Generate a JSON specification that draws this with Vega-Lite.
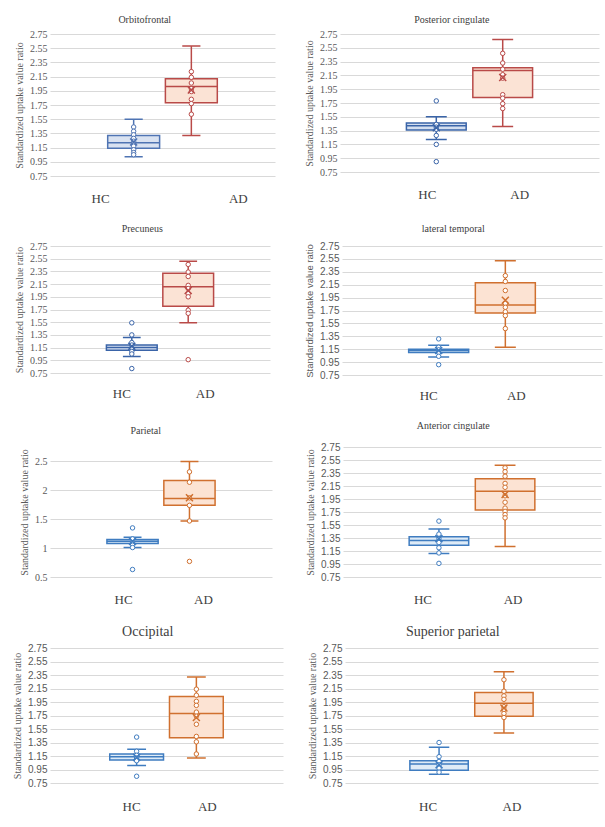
{
"$schema": "https://vega.github.io/schema/vega-lite/v6.json",
"background": "white",
"padding": {"left": 12, "top": 15, "right": 5, "bottom": 5},
"spacing": 19,
"resolve": {"scale": {"stroke": "independent", "fill": "independent"}},
"data": {"values": [
{"region":"Orbitofrontal","group":"HC","lo":1.02,"q1":1.14,"median":1.22,"q3":1.32,"hi":1.55,"mean":1.23},
{"region":"Orbitofrontal","group":"AD","lo":1.32,"q1":1.78,"median":2.01,"q3":2.12,"hi":2.58,"mean":1.96},
{"region":"Posterior cingulate","group":"HC","lo":1.22,"q1":1.36,"median":1.42,"q3":1.46,"hi":1.55,"mean":1.39},
{"region":"Posterior cingulate","group":"AD","lo":1.41,"q1":1.83,"median":2.22,"q3":2.26,"hi":2.67,"mean":2.12},
{"region":"Precuneus","group":"HC","lo":1.01,"q1":1.11,"median":1.15,"q3":1.19,"hi":1.31,"mean":1.17},
{"region":"Precuneus","group":"AD","lo":1.54,"q1":1.80,"median":2.11,"q3":2.32,"hi":2.51,"mean":2.05},
{"region":"lateral temporal","group":"HC","lo":1.03,"q1":1.10,"median":1.13,"q3":1.15,"hi":1.21,"mean":1.13},
{"region":"lateral temporal","group":"AD","lo":1.18,"q1":1.71,"median":1.835,"q3":2.18,"hi":2.52,"mean":1.91},
{"region":"Parietal","group":"HC","lo":1.01,"q1":1.08,"median":1.12,"q3":1.15,"hi":1.19,"mean":1.12},
{"region":"Parietal","group":"AD","lo":1.47,"q1":1.74,"median":1.86,"q3":2.17,"hi":2.50,"mean":1.87},
{"region":"Anterior cingulate","group":"HC","lo":1.11,"q1":1.24,"median":1.31,"q3":1.37,"hi":1.49,"mean":1.34},
{"region":"Anterior cingulate","group":"AD","lo":1.22,"q1":1.78,"median":2.07,"q3":2.26,"hi":2.47,"mean":2.02},
{"region":"Occipital","group":"HC","lo":1.01,"q1":1.09,"median":1.14,"q3":1.18,"hi":1.25,"mean":1.13},
{"region":"Occipital","group":"AD","lo":1.12,"q1":1.42,"median":1.78,"q3":2.03,"hi":2.32,"mean":1.72},
{"region":"Superior parietal","group":"HC","lo":0.88,"q1":0.94,"median":1.03,"q3":1.08,"hi":1.28,"mean":1.02},
{"region":"Superior parietal","group":"AD","lo":1.49,"q1":1.74,"median":1.93,"q3":2.09,"hi":2.40,"mean":1.86},
{"region":"Orbitofrontal","group":"HC","value":1.44},{"region":"Orbitofrontal","group":"HC","value":1.38},{"region":"Orbitofrontal","group":"HC","value":1.33},{"region":"Orbitofrontal","group":"HC","value":1.28},{"region":"Orbitofrontal","group":"HC","value":1.24},{"region":"Orbitofrontal","group":"HC","value":1.21},{"region":"Orbitofrontal","group":"HC","value":1.17},{"region":"Orbitofrontal","group":"HC","value":1.12},{"region":"Orbitofrontal","group":"HC","value":1.08},{"region":"Orbitofrontal","group":"HC","value":1.05},
{"region":"Orbitofrontal","group":"AD","value":2.22},{"region":"Orbitofrontal","group":"AD","value":2.14},{"region":"Orbitofrontal","group":"AD","value":2.06},{"region":"Orbitofrontal","group":"AD","value":1.98},{"region":"Orbitofrontal","group":"AD","value":1.94},{"region":"Orbitofrontal","group":"AD","value":1.83},{"region":"Orbitofrontal","group":"AD","value":1.77},{"region":"Orbitofrontal","group":"AD","value":1.62},
{"region":"Posterior cingulate","group":"HC","value":1.78},{"region":"Posterior cingulate","group":"HC","value":1.44},{"region":"Posterior cingulate","group":"HC","value":1.40},{"region":"Posterior cingulate","group":"HC","value":1.37},{"region":"Posterior cingulate","group":"HC","value":1.28},{"region":"Posterior cingulate","group":"HC","value":1.15},{"region":"Posterior cingulate","group":"HC","value":0.90},
{"region":"Posterior cingulate","group":"AD","value":2.47},{"region":"Posterior cingulate","group":"AD","value":2.33},{"region":"Posterior cingulate","group":"AD","value":2.24},{"region":"Posterior cingulate","group":"AD","value":2.16},{"region":"Posterior cingulate","group":"AD","value":2.11},{"region":"Posterior cingulate","group":"AD","value":1.87},{"region":"Posterior cingulate","group":"AD","value":1.82},{"region":"Posterior cingulate","group":"AD","value":1.74},{"region":"Posterior cingulate","group":"AD","value":1.67},
{"region":"Precuneus","group":"HC","value":1.54},{"region":"Precuneus","group":"HC","value":1.35},{"region":"Precuneus","group":"HC","value":1.23},{"region":"Precuneus","group":"HC","value":1.19},{"region":"Precuneus","group":"HC","value":1.14},{"region":"Precuneus","group":"HC","value":1.09},{"region":"Precuneus","group":"HC","value":1.05},{"region":"Precuneus","group":"HC","value":0.82},
{"region":"Precuneus","group":"AD","value":2.46},{"region":"Precuneus","group":"AD","value":2.34},{"region":"Precuneus","group":"AD","value":2.27},{"region":"Precuneus","group":"AD","value":2.13},{"region":"Precuneus","group":"AD","value":2.08},{"region":"Precuneus","group":"AD","value":2.00},{"region":"Precuneus","group":"AD","value":1.95},{"region":"Precuneus","group":"AD","value":1.74},{"region":"Precuneus","group":"AD","value":1.69},{"region":"Precuneus","group":"AD","value":0.96},
{"region":"lateral temporal","group":"HC","value":1.31},{"region":"lateral temporal","group":"HC","value":1.18},{"region":"lateral temporal","group":"HC","value":1.14},{"region":"lateral temporal","group":"HC","value":1.10},{"region":"lateral temporal","group":"HC","value":1.04},{"region":"lateral temporal","group":"HC","value":0.91},
{"region":"lateral temporal","group":"AD","value":2.29},{"region":"lateral temporal","group":"AD","value":2.20},{"region":"lateral temporal","group":"AD","value":2.06},{"region":"lateral temporal","group":"AD","value":1.86},{"region":"lateral temporal","group":"AD","value":1.80},{"region":"lateral temporal","group":"AD","value":1.73},{"region":"lateral temporal","group":"AD","value":1.67},{"region":"lateral temporal","group":"AD","value":1.47},
{"region":"Parietal","group":"HC","value":1.35},{"region":"Parietal","group":"HC","value":1.16},{"region":"Parietal","group":"HC","value":1.09},{"region":"Parietal","group":"HC","value":1.05},{"region":"Parietal","group":"HC","value":1.01},{"region":"Parietal","group":"HC","value":0.63},
{"region":"Parietal","group":"AD","value":2.32},{"region":"Parietal","group":"AD","value":2.14},{"region":"Parietal","group":"AD","value":1.87},{"region":"Parietal","group":"AD","value":1.74},{"region":"Parietal","group":"AD","value":1.47},{"region":"Parietal","group":"AD","value":0.77},
{"region":"Anterior cingulate","group":"HC","value":1.61},{"region":"Anterior cingulate","group":"HC","value":1.41},{"region":"Anterior cingulate","group":"HC","value":1.34},{"region":"Anterior cingulate","group":"HC","value":1.28},{"region":"Anterior cingulate","group":"HC","value":1.20},{"region":"Anterior cingulate","group":"HC","value":1.12},{"region":"Anterior cingulate","group":"HC","value":0.96},
{"region":"Anterior cingulate","group":"AD","value":2.43},{"region":"Anterior cingulate","group":"AD","value":2.37},{"region":"Anterior cingulate","group":"AD","value":2.30},{"region":"Anterior cingulate","group":"AD","value":2.19},{"region":"Anterior cingulate","group":"AD","value":2.13},{"region":"Anterior cingulate","group":"AD","value":2.00},{"region":"Anterior cingulate","group":"AD","value":1.90},{"region":"Anterior cingulate","group":"AD","value":1.81},{"region":"Anterior cingulate","group":"AD","value":1.76},{"region":"Anterior cingulate","group":"AD","value":1.71},{"region":"Anterior cingulate","group":"AD","value":1.66},
{"region":"Occipital","group":"HC","value":1.43},{"region":"Occipital","group":"HC","value":1.22},{"region":"Occipital","group":"HC","value":1.16},{"region":"Occipital","group":"HC","value":1.12},{"region":"Occipital","group":"HC","value":1.08},{"region":"Occipital","group":"HC","value":0.85},
{"region":"Occipital","group":"AD","value":2.14},{"region":"Occipital","group":"AD","value":2.05},{"region":"Occipital","group":"AD","value":1.96},{"region":"Occipital","group":"AD","value":1.90},{"region":"Occipital","group":"AD","value":1.80},{"region":"Occipital","group":"AD","value":1.74},{"region":"Occipital","group":"AD","value":1.62},{"region":"Occipital","group":"AD","value":1.44},{"region":"Occipital","group":"AD","value":1.36},{"region":"Occipital","group":"AD","value":1.18},
{"region":"Superior parietal","group":"HC","value":1.35},{"region":"Superior parietal","group":"HC","value":1.14},{"region":"Superior parietal","group":"HC","value":1.07},{"region":"Superior parietal","group":"HC","value":1.02},{"region":"Superior parietal","group":"HC","value":0.97},{"region":"Superior parietal","group":"HC","value":0.91},
{"region":"Superior parietal","group":"AD","value":2.28},{"region":"Superior parietal","group":"AD","value":2.11},{"region":"Superior parietal","group":"AD","value":2.04},{"region":"Superior parietal","group":"AD","value":1.99},{"region":"Superior parietal","group":"AD","value":1.88},{"region":"Superior parietal","group":"AD","value":1.84},{"region":"Superior parietal","group":"AD","value":1.78},{"region":"Superior parietal","group":"AD","value":1.72}
]},
"vconcat": [
{"spacing": 29, "resolve": {"scale": {"stroke": "independent", "fill": "independent"}}, "hconcat": [
{"width": 225, "height": 142,
 "title": {"text": "Orbitofrontal", "offset": 4},
 "transform": [{"filter": "datum.region === 'Orbitofrontal'"}],
 "encoding": {
  "x": {"field": "group", "type": "nominal", "sort": ["HC","AD"], "title": null, "scale": {"domain": ["HC","AD"], "paddingInner": 0.1, "paddingOuter": 1.1}, "axis": {"labelPadding": 16, "labelOffset": {"condition": {"test": "datum.value === 'HC'", "value": -33}, "value": 47}}},
  "stroke": {"field": "group", "type": "nominal", "legend": null, "scale": {"domain": ["HC","AD"], "range": ["#4F74B3","#B94A48"]}}
 },
 "layer": [
  {"transform": [{"filter": "isValid(datum.q1)"}], "mark": {"type": "rule", "strokeWidth": 1.5}, "encoding": {"y": {"field": "lo", "type": "quantitative", "scale": {"domain": [0.75, 2.75], "nice": false, "zero": false}, "axis": {"values": [0.75,0.95,1.15,1.35,1.55,1.75,1.95,2.15,2.35,2.55,2.75], "tickCount": 30, "format": ".2f", "title": "Standardized uptake value ratio", "labelFont": "Liberation Serif", "titleFont": "Liberation Serif", "labelOverlap": false}}, "y2": {"field": "hi"}}},
  {"transform": [{"filter": "isValid(datum.q1)"}], "mark": {"type": "bar", "strokeWidth": 1.5}, "encoding": {"y": {"field": "q1", "type": "quantitative"}, "y2": {"field": "q3"}, "fill": {"field": "group", "type": "nominal", "legend": null, "scale": {"domain": ["HC","AD"], "range": ["#D9E2F1","#FBE3D5"]}}}},
  {"transform": [{"filter": "isValid(datum.q1)"}], "mark": {"type": "bar", "fillOpacity": 0, "strokeWidth": 1.5}, "encoding": {"y": {"field": "median", "type": "quantitative"}, "y2": {"field": "median"}}},
  {"transform": [{"filter": "isValid(datum.q1)"}], "mark": {"type": "bar", "fillOpacity": 0, "strokeWidth": 1.5, "width": {"band": 0.35}}, "encoding": {"y": {"field": "lo", "type": "quantitative"}, "y2": {"field": "lo"}}},
  {"transform": [{"filter": "isValid(datum.q1)"}], "mark": {"type": "bar", "fillOpacity": 0, "strokeWidth": 1.5, "width": {"band": 0.35}}, "encoding": {"y": {"field": "hi", "type": "quantitative"}, "y2": {"field": "hi"}}},
  {"transform": [{"filter": "isValid(datum.value)"}], "mark": {"type": "point", "shape": "circle", "filled": true, "fill": "white", "size": 20, "strokeWidth": 1, "opacity": 1}, "encoding": {"y": {"field": "value", "type": "quantitative"}}},
  {"transform": [{"filter": "isValid(datum.q1)"}], "mark": {"type": "point", "shape": "M-1,-1L1,1M-1,1L1,-1", "filled": false, "size": 49, "strokeWidth": 1.5, "opacity": 1}, "encoding": {"y": {"field": "mean", "type": "quantitative"}}}
 ]},
{"width": 259, "height": 138,
 "title": {"text": "Posterior cingulate", "offset": 4},
 "transform": [{"filter": "datum.region === 'Posterior cingulate'"}],
 "encoding": {
  "x": {"field": "group", "type": "nominal", "sort": ["HC","AD"], "title": null, "scale": {"domain": ["HC","AD"], "paddingInner": 0.1, "paddingOuter": 1.1}, "axis": {"labelPadding": 16, "labelOffset": {"condition": {"test": "datum.value === 'HC'", "value": -9}, "value": 17}}},
  "stroke": {"field": "group", "type": "nominal", "legend": null, "scale": {"domain": ["HC","AD"], "range": ["#3A64A8","#B94A48"]}}
 },
 "layer": [
  {"transform": [{"filter": "isValid(datum.q1)"}], "mark": {"type": "rule", "strokeWidth": 1.5}, "encoding": {"y": {"field": "lo", "type": "quantitative", "scale": {"domain": [0.75, 2.75], "nice": false, "zero": false}, "axis": {"values": [0.75,0.95,1.15,1.35,1.55,1.75,1.95,2.15,2.35,2.55,2.75], "tickCount": 30, "format": ".2f", "title": "Standardized uptake value ratio", "labelFont": "Liberation Serif", "titleFont": "Liberation Serif", "labelOverlap": false}}, "y2": {"field": "hi"}}},
  {"transform": [{"filter": "isValid(datum.q1)"}], "mark": {"type": "bar", "strokeWidth": 1.5}, "encoding": {"y": {"field": "q1", "type": "quantitative"}, "y2": {"field": "q3"}, "fill": {"field": "group", "type": "nominal", "legend": null, "scale": {"domain": ["HC","AD"], "range": ["#D3DEEF","#FBE3D5"]}}}},
  {"transform": [{"filter": "isValid(datum.q1)"}], "mark": {"type": "bar", "fillOpacity": 0, "strokeWidth": 1.5}, "encoding": {"y": {"field": "median", "type": "quantitative"}, "y2": {"field": "median"}}},
  {"transform": [{"filter": "isValid(datum.q1)"}], "mark": {"type": "bar", "fillOpacity": 0, "strokeWidth": 1.5, "width": {"band": 0.35}}, "encoding": {"y": {"field": "lo", "type": "quantitative"}, "y2": {"field": "lo"}}},
  {"transform": [{"filter": "isValid(datum.q1)"}], "mark": {"type": "bar", "fillOpacity": 0, "strokeWidth": 1.5, "width": {"band": 0.35}}, "encoding": {"y": {"field": "hi", "type": "quantitative"}, "y2": {"field": "hi"}}},
  {"transform": [{"filter": "isValid(datum.value)"}], "mark": {"type": "point", "shape": "circle", "filled": true, "fill": "white", "size": 20, "strokeWidth": 1, "opacity": 1}, "encoding": {"y": {"field": "value", "type": "quantitative"}}},
  {"transform": [{"filter": "isValid(datum.q1)"}], "mark": {"type": "point", "shape": "M-1,-1L1,1M-1,1L1,-1", "filled": false, "size": 49, "strokeWidth": 1.5, "opacity": 1}, "encoding": {"y": {"field": "mean", "type": "quantitative"}}}
 ]}
]},
{"spacing": 34, "resolve": {"scale": {"stroke": "independent", "fill": "independent"}}, "hconcat": [
{"width": 220, "height": 127,
 "title": {"text": "Precuneus", "offset": 7},
 "transform": [{"filter": "datum.region === 'Precuneus'"}],
 "encoding": {
  "x": {"field": "group", "type": "nominal", "sort": ["HC","AD"], "title": null, "scale": {"domain": ["HC","AD"], "paddingInner": 0.1, "paddingOuter": 1.1}, "axis": {"labelOffset": {"condition": {"test": "datum.value === 'HC'", "value": -10}, "value": 17}}},
  "stroke": {"field": "group", "type": "nominal", "legend": null, "scale": {"domain": ["HC","AD"], "range": ["#3A64A8","#B94A48"]}}
 },
 "layer": [
  {"transform": [{"filter": "isValid(datum.q1)"}], "mark": {"type": "rule", "strokeWidth": 1.5}, "encoding": {"y": {"field": "lo", "type": "quantitative", "scale": {"domain": [0.75, 2.75], "nice": false, "zero": false}, "axis": {"values": [0.75,0.95,1.15,1.35,1.55,1.75,1.95,2.15,2.35,2.55,2.75], "tickCount": 30, "format": ".2f", "title": "Standardized uptake value ratio", "labelFont": "Liberation Serif", "titleFont": "Liberation Serif", "labelOverlap": false}}, "y2": {"field": "hi"}}},
  {"transform": [{"filter": "isValid(datum.q1)"}], "mark": {"type": "bar", "strokeWidth": 1.5}, "encoding": {"y": {"field": "q1", "type": "quantitative"}, "y2": {"field": "q3"}, "fill": {"field": "group", "type": "nominal", "legend": null, "scale": {"domain": ["HC","AD"], "range": ["#DAE3F3","#FBE3D5"]}}}},
  {"transform": [{"filter": "isValid(datum.q1)"}], "mark": {"type": "bar", "fillOpacity": 0, "strokeWidth": 1.5}, "encoding": {"y": {"field": "median", "type": "quantitative"}, "y2": {"field": "median"}}},
  {"transform": [{"filter": "isValid(datum.q1)"}], "mark": {"type": "bar", "fillOpacity": 0, "strokeWidth": 1.5, "width": {"band": 0.35}}, "encoding": {"y": {"field": "lo", "type": "quantitative"}, "y2": {"field": "lo"}}},
  {"transform": [{"filter": "isValid(datum.q1)"}], "mark": {"type": "bar", "fillOpacity": 0, "strokeWidth": 1.5, "width": {"band": 0.35}}, "encoding": {"y": {"field": "hi", "type": "quantitative"}, "y2": {"field": "hi"}}},
  {"transform": [{"filter": "isValid(datum.value)"}], "mark": {"type": "point", "shape": "circle", "filled": true, "fill": "white", "size": 20, "strokeWidth": 1, "opacity": 1}, "encoding": {"y": {"field": "value", "type": "quantitative"}}},
  {"transform": [{"filter": "isValid(datum.q1)"}], "mark": {"type": "point", "shape": "M-1,-1L1,1M-1,1L1,-1", "filled": false, "size": 49, "strokeWidth": 1.5, "opacity": 1}, "encoding": {"y": {"field": "mean", "type": "quantitative"}}}
 ]},
{"width": 260, "height": 129,
 "title": {"text": "lateral temporal", "offset": 7},
 "transform": [{"filter": "datum.region === 'lateral temporal'"}],
 "encoding": {
  "x": {"field": "group", "type": "nominal", "sort": ["HC","AD"], "title": null, "scale": {"domain": ["HC","AD"], "paddingInner": 0.1, "paddingOuter": 1.1}, "axis": {"labelOffset": {"condition": {"test": "datum.value === 'HC'", "value": -10}, "value": 11}}},
  "stroke": {"field": "group", "type": "nominal", "legend": null, "scale": {"domain": ["HC","AD"], "range": ["#3F7CC0","#D0702F"]}}
 },
 "layer": [
  {"transform": [{"filter": "isValid(datum.q1)"}], "mark": {"type": "rule", "strokeWidth": 1.5}, "encoding": {"y": {"field": "lo", "type": "quantitative", "scale": {"domain": [0.75, 2.75], "nice": false, "zero": false}, "axis": {"values": [0.75,0.95,1.15,1.35,1.55,1.75,1.95,2.15,2.35,2.55,2.75], "tickCount": 30, "format": ".2f", "title": "Standardized uptake value ratio", "labelFont": "Liberation Sans", "titleFont": "Liberation Sans", "titleFontSize": 9.5, "labelOverlap": false}}, "y2": {"field": "hi"}}},
  {"transform": [{"filter": "isValid(datum.q1)"}], "mark": {"type": "bar", "strokeWidth": 1.5}, "encoding": {"y": {"field": "q1", "type": "quantitative"}, "y2": {"field": "q3"}, "fill": {"field": "group", "type": "nominal", "legend": null, "scale": {"domain": ["HC","AD"], "range": ["#DEEBF7","#FCE3D3"]}}}},
  {"transform": [{"filter": "isValid(datum.q1)"}], "mark": {"type": "bar", "fillOpacity": 0, "strokeWidth": 1.5}, "encoding": {"y": {"field": "median", "type": "quantitative"}, "y2": {"field": "median"}}},
  {"transform": [{"filter": "isValid(datum.q1)"}], "mark": {"type": "bar", "fillOpacity": 0, "strokeWidth": 1.5, "width": {"band": 0.35}}, "encoding": {"y": {"field": "lo", "type": "quantitative"}, "y2": {"field": "lo"}}},
  {"transform": [{"filter": "isValid(datum.q1)"}], "mark": {"type": "bar", "fillOpacity": 0, "strokeWidth": 1.5, "width": {"band": 0.35}}, "encoding": {"y": {"field": "hi", "type": "quantitative"}, "y2": {"field": "hi"}}},
  {"transform": [{"filter": "isValid(datum.value)"}], "mark": {"type": "point", "shape": "circle", "filled": true, "fill": "white", "size": 20, "strokeWidth": 1, "opacity": 1}, "encoding": {"y": {"field": "value", "type": "quantitative"}}},
  {"transform": [{"filter": "isValid(datum.q1)"}], "mark": {"type": "point", "shape": "M-1,-1L1,1M-1,1L1,-1", "filled": false, "size": 49, "strokeWidth": 1.5, "opacity": 1}, "encoding": {"y": {"field": "mean", "type": "quantitative"}}}
 ]}
]},
{"spacing": 33, "resolve": {"scale": {"stroke": "independent", "fill": "independent"}}, "hconcat": [
{"width": 222, "height": 130,
 "title": {"text": "Parietal", "offset": 11},
 "transform": [{"filter": "datum.region === 'Parietal'"}],
 "encoding": {
  "x": {"field": "group", "type": "nominal", "sort": ["HC","AD"], "title": null, "scale": {"domain": ["HC","AD"], "paddingInner": 0.1, "paddingOuter": 1.1}, "axis": {"labelPadding": 16, "labelOffset": {"condition": {"test": "datum.value === 'HC'", "value": -9}, "value": 14}}},
  "stroke": {"field": "group", "type": "nominal", "legend": null, "scale": {"domain": ["HC","AD"], "range": ["#3F7CC0","#D0702F"]}}
 },
 "layer": [
  {"transform": [{"filter": "isValid(datum.q1)"}], "mark": {"type": "rule", "strokeWidth": 1.5}, "encoding": {"y": {"field": "lo", "type": "quantitative", "scale": {"domain": [0.5, 2.75], "nice": false, "zero": false}, "axis": {"values": [0.5,1,1.5,2,2.5], "tickCount": 30, "format": "~g", "title": "Standardized uptake value ratio", "labelFont": "Liberation Serif", "titleFont": "Liberation Serif", "labelOverlap": false}}, "y2": {"field": "hi"}}},
  {"transform": [{"filter": "isValid(datum.q1)"}], "mark": {"type": "bar", "strokeWidth": 1.5}, "encoding": {"y": {"field": "q1", "type": "quantitative"}, "y2": {"field": "q3"}, "fill": {"field": "group", "type": "nominal", "legend": null, "scale": {"domain": ["HC","AD"], "range": ["#DEEBF7","#FCE3D3"]}}}},
  {"transform": [{"filter": "isValid(datum.q1)"}], "mark": {"type": "bar", "fillOpacity": 0, "strokeWidth": 1.5}, "encoding": {"y": {"field": "median", "type": "quantitative"}, "y2": {"field": "median"}}},
  {"transform": [{"filter": "isValid(datum.q1)"}], "mark": {"type": "bar", "fillOpacity": 0, "strokeWidth": 1.5, "width": {"band": 0.35}}, "encoding": {"y": {"field": "lo", "type": "quantitative"}, "y2": {"field": "lo"}}},
  {"transform": [{"filter": "isValid(datum.q1)"}], "mark": {"type": "bar", "fillOpacity": 0, "strokeWidth": 1.5, "width": {"band": 0.35}}, "encoding": {"y": {"field": "hi", "type": "quantitative"}, "y2": {"field": "hi"}}},
  {"transform": [{"filter": "isValid(datum.value)"}], "mark": {"type": "point", "shape": "circle", "filled": true, "fill": "white", "size": 20, "strokeWidth": 1, "opacity": 1}, "encoding": {"y": {"field": "value", "type": "quantitative"}}},
  {"transform": [{"filter": "isValid(datum.q1)"}], "mark": {"type": "point", "shape": "M-1,-1L1,1M-1,1L1,-1", "filled": false, "size": 49, "strokeWidth": 1.5, "opacity": 1}, "encoding": {"y": {"field": "mean", "type": "quantitative"}}}
 ]},
{"width": 258, "height": 130,
 "title": {"text": "Anterior cingulate", "offset": 11},
 "transform": [{"filter": "datum.region === 'Anterior cingulate'"}],
 "encoding": {
  "x": {"field": "group", "type": "nominal", "sort": ["HC","AD"], "title": null, "scale": {"domain": ["HC","AD"], "paddingInner": 0.1, "paddingOuter": 1.1}, "axis": {"labelPadding": 16, "labelOffset": {"condition": {"test": "datum.value === 'HC'", "value": -16}, "value": 8}}},
  "stroke": {"field": "group", "type": "nominal", "legend": null, "scale": {"domain": ["HC","AD"], "range": ["#3F7CC0","#D0702F"]}}
 },
 "layer": [
  {"transform": [{"filter": "isValid(datum.q1)"}], "mark": {"type": "rule", "strokeWidth": 1.5}, "encoding": {"y": {"field": "lo", "type": "quantitative", "scale": {"domain": [0.75, 2.75], "nice": false, "zero": false}, "axis": {"values": [0.75,0.95,1.15,1.35,1.55,1.75,1.95,2.15,2.35,2.55,2.75], "tickCount": 30, "format": ".2f", "title": "Standardized uptake value ratio", "labelFont": "Liberation Sans", "titleFont": "Liberation Serif", "labelOverlap": false}}, "y2": {"field": "hi"}}},
  {"transform": [{"filter": "isValid(datum.q1)"}], "mark": {"type": "bar", "strokeWidth": 1.5}, "encoding": {"y": {"field": "q1", "type": "quantitative"}, "y2": {"field": "q3"}, "fill": {"field": "group", "type": "nominal", "legend": null, "scale": {"domain": ["HC","AD"], "range": ["#DEEBF7","#FCE3D3"]}}}},
  {"transform": [{"filter": "isValid(datum.q1)"}], "mark": {"type": "bar", "fillOpacity": 0, "strokeWidth": 1.5}, "encoding": {"y": {"field": "median", "type": "quantitative"}, "y2": {"field": "median"}}},
  {"transform": [{"filter": "isValid(datum.q1)"}], "mark": {"type": "bar", "fillOpacity": 0, "strokeWidth": 1.5, "width": {"band": 0.35}}, "encoding": {"y": {"field": "lo", "type": "quantitative"}, "y2": {"field": "lo"}}},
  {"transform": [{"filter": "isValid(datum.q1)"}], "mark": {"type": "bar", "fillOpacity": 0, "strokeWidth": 1.5, "width": {"band": 0.35}}, "encoding": {"y": {"field": "hi", "type": "quantitative"}, "y2": {"field": "hi"}}},
  {"transform": [{"filter": "isValid(datum.value)"}], "mark": {"type": "point", "shape": "circle", "filled": true, "fill": "white", "size": 20, "strokeWidth": 1, "opacity": 1}, "encoding": {"y": {"field": "value", "type": "quantitative"}}},
  {"transform": [{"filter": "isValid(datum.q1)"}], "mark": {"type": "point", "shape": "M-1,-1L1,1M-1,1L1,-1", "filled": false, "size": 49, "strokeWidth": 1.5, "opacity": 1}, "encoding": {"y": {"field": "mean", "type": "quantitative"}}}
 ]}
]},
{"spacing": 24, "resolve": {"scale": {"stroke": "independent", "fill": "independent"}}, "hconcat": [
{"width": 233, "height": 135,
 "title": {"text": "Occipital", "offset": 4, "fontSize": 14},
 "transform": [{"filter": "datum.region === 'Occipital'"}],
 "encoding": {
  "x": {"field": "group", "type": "nominal", "sort": ["HC","AD"], "title": null, "scale": {"domain": ["HC","AD"], "paddingInner": 0.1, "paddingOuter": 1.1}, "axis": {"labelPadding": 17, "labelOffset": {"condition": {"test": "datum.value === 'HC'", "value": -5}, "value": 11}}},
  "stroke": {"field": "group", "type": "nominal", "legend": null, "scale": {"domain": ["HC","AD"], "range": ["#3F7CC0","#D0702F"]}}
 },
 "layer": [
  {"transform": [{"filter": "isValid(datum.q1)"}], "mark": {"type": "rule", "strokeWidth": 1.5}, "encoding": {"y": {"field": "lo", "type": "quantitative", "scale": {"domain": [0.75, 2.75], "nice": false, "zero": false}, "axis": {"values": [0.75,0.95,1.15,1.35,1.55,1.75,1.95,2.15,2.35,2.55,2.75], "tickCount": 30, "format": ".2f", "title": "Standardized uptake value ratio", "labelFont": "Liberation Sans", "titleFont": "Liberation Serif", "labelOverlap": false}}, "y2": {"field": "hi"}}},
  {"transform": [{"filter": "isValid(datum.q1)"}], "mark": {"type": "bar", "strokeWidth": 1.5}, "encoding": {"y": {"field": "q1", "type": "quantitative"}, "y2": {"field": "q3"}, "fill": {"field": "group", "type": "nominal", "legend": null, "scale": {"domain": ["HC","AD"], "range": ["#DEEBF7","#FCE3D3"]}}}},
  {"transform": [{"filter": "isValid(datum.q1)"}], "mark": {"type": "bar", "fillOpacity": 0, "strokeWidth": 1.5}, "encoding": {"y": {"field": "median", "type": "quantitative"}, "y2": {"field": "median"}}},
  {"transform": [{"filter": "isValid(datum.q1)"}], "mark": {"type": "bar", "fillOpacity": 0, "strokeWidth": 1.5, "width": {"band": 0.35}}, "encoding": {"y": {"field": "lo", "type": "quantitative"}, "y2": {"field": "lo"}}},
  {"transform": [{"filter": "isValid(datum.q1)"}], "mark": {"type": "bar", "fillOpacity": 0, "strokeWidth": 1.5, "width": {"band": 0.35}}, "encoding": {"y": {"field": "hi", "type": "quantitative"}, "y2": {"field": "hi"}}},
  {"transform": [{"filter": "isValid(datum.value)"}], "mark": {"type": "point", "shape": "circle", "filled": true, "fill": "white", "size": 20, "strokeWidth": 1, "opacity": 1}, "encoding": {"y": {"field": "value", "type": "quantitative"}}},
  {"transform": [{"filter": "isValid(datum.q1)"}], "mark": {"type": "point", "shape": "M-1,-1L1,1M-1,1L1,-1", "filled": false, "size": 49, "strokeWidth": 1.5, "opacity": 1}, "encoding": {"y": {"field": "mean", "type": "quantitative"}}}
 ]},
{"width": 253, "height": 135,
 "title": {"text": "Superior parietal", "offset": 4, "fontSize": 14},
 "transform": [{"filter": "datum.region === 'Superior parietal'"}],
 "encoding": {
  "x": {"field": "group", "type": "nominal", "sort": ["HC","AD"], "title": null, "scale": {"domain": ["HC","AD"], "paddingInner": 0.1, "paddingOuter": 1.1}, "axis": {"labelPadding": 17, "labelOffset": {"condition": {"test": "datum.value === 'HC'", "value": -11}, "value": 8}}},
  "stroke": {"field": "group", "type": "nominal", "legend": null, "scale": {"domain": ["HC","AD"], "range": ["#3F7CC0","#D0702F"]}}
 },
 "layer": [
  {"transform": [{"filter": "isValid(datum.q1)"}], "mark": {"type": "rule", "strokeWidth": 1.5}, "encoding": {"y": {"field": "lo", "type": "quantitative", "scale": {"domain": [0.75, 2.75], "nice": false, "zero": false}, "axis": {"values": [0.75,0.95,1.15,1.35,1.55,1.75,1.95,2.15,2.35,2.55,2.75], "tickCount": 30, "format": ".2f", "title": "Standardized uptake value ratio", "labelFont": "Liberation Sans", "titleFont": "Liberation Serif", "labelOverlap": false}}, "y2": {"field": "hi"}}},
  {"transform": [{"filter": "isValid(datum.q1)"}], "mark": {"type": "bar", "strokeWidth": 1.5}, "encoding": {"y": {"field": "q1", "type": "quantitative"}, "y2": {"field": "q3"}, "fill": {"field": "group", "type": "nominal", "legend": null, "scale": {"domain": ["HC","AD"], "range": ["#DEEBF7","#FCE3D3"]}}}},
  {"transform": [{"filter": "isValid(datum.q1)"}], "mark": {"type": "bar", "fillOpacity": 0, "strokeWidth": 1.5}, "encoding": {"y": {"field": "median", "type": "quantitative"}, "y2": {"field": "median"}}},
  {"transform": [{"filter": "isValid(datum.q1)"}], "mark": {"type": "bar", "fillOpacity": 0, "strokeWidth": 1.5, "width": {"band": 0.35}}, "encoding": {"y": {"field": "lo", "type": "quantitative"}, "y2": {"field": "lo"}}},
  {"transform": [{"filter": "isValid(datum.q1)"}], "mark": {"type": "bar", "fillOpacity": 0, "strokeWidth": 1.5, "width": {"band": 0.35}}, "encoding": {"y": {"field": "hi", "type": "quantitative"}, "y2": {"field": "hi"}}},
  {"transform": [{"filter": "isValid(datum.value)"}], "mark": {"type": "point", "shape": "circle", "filled": true, "fill": "white", "size": 20, "strokeWidth": 1, "opacity": 1}, "encoding": {"y": {"field": "value", "type": "quantitative"}}},
  {"transform": [{"filter": "isValid(datum.q1)"}], "mark": {"type": "point", "shape": "M-1,-1L1,1M-1,1L1,-1", "filled": false, "size": 49, "strokeWidth": 1.5, "opacity": 1}, "encoding": {"y": {"field": "mean", "type": "quantitative"}}}
 ]}
]}
],
"config": {
 "view": {"stroke": null},
 "axis": {"labelColor": "#595959", "titleColor": "#595959", "domain": false, "ticks": false, "gridColor": "#d9d9d9", "gridWidth": 1, "titleFontWeight": "normal"},
 "axisY": {"labelFont": "Liberation Serif", "labelFontSize": 10, "titleFont": "Liberation Serif", "titleFontSize": 10, "grid": true, "labelPadding": 3, "titlePadding": 5, "labelOverlap": false},
 "axisX": {"grid": false, "labelFont": "Liberation Serif", "labelFontSize": 13, "labelColor": "#404040", "labelPadding": 14, "labelAngle": 0},
 "title": {"font": "Liberation Serif", "fontWeight": "normal", "color": "#404040", "fontSize": 10, "frame": "bounds", "anchor": "middle"}
}
}
